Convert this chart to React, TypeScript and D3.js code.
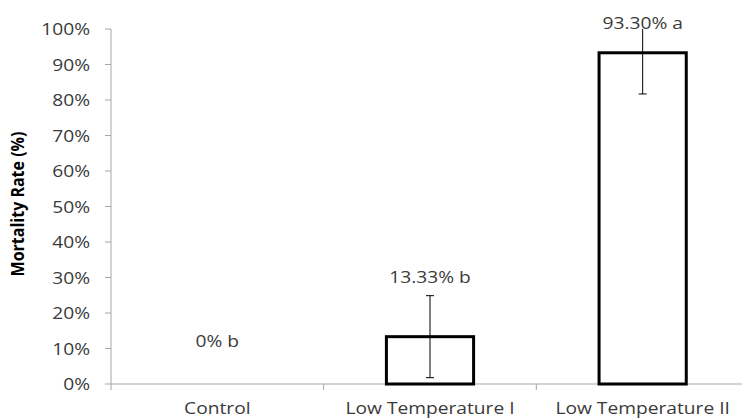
import React from "react";
import * as d3 from "d3";

const categories = ["Control", "Low Temperature I", "Low Temperature II"];
const values = [0, 13.33, 93.3];
const errors = [0, 11.55, 11.6];
const labels = ["0% b", "13.33% b", "93.30% a"];
const labelAnchors = [10.4, 28.5, 100]; // value (in %) at which each label baseline sits
const yTicks = [0, 10, 20, 30, 40, 50, 60, 70, 80, 90, 100];

const W = 742;
const H = 419;
const M = { left: 111, right: -7, top: 29, bottom: 35 };
const SX = 1.2;
const FS = 16;
const FONT = "'Open Sans', 'Liberation Sans', sans-serif";
const TXT = "#3a3a3a";

export default function App() {
  const x = d3
    .scaleBand<string>()
    .domain(categories)
    .range([M.left, W - M.right])
    .paddingInner(0.59)
    .paddingOuter(0.295);
  const band = d3.scaleBand<string>().domain(categories).range([M.left, W - M.right]);
  const y = d3.scaleLinear().domain([0, 100]).range([H - M.bottom, M.top]);
  const y0 = y(0);
  const boundaries = [M.left, ...categories.map((c) => (band(c) as number) + band.bandwidth())];

  return (
    <svg
      width={W}
      height={H}
      style={{ position: "absolute", left: 0, top: 0, background: "#fff" }}
      fontFamily={FONT}
    >
      <defs>
        <clipPath id="plot">
          <rect x={M.left} y={M.top} width={W - M.left} height={y0 - M.top} />
        </clipPath>
      </defs>
      {/* y axis */}
      <line x1={M.left} x2={M.left} y1={y(100)} y2={y0} stroke="#a6a6a6" strokeWidth={1} />
      {yTicks.map((t) => (
        <g key={t}>
          <line x1={M.left - 6} x2={M.left} y1={y(t)} y2={y(t)} stroke="#a6a6a6" />
          <text
            transform={`translate(${90},${y(t) + 6}) scale(${SX},1)`}
            textAnchor="end"
            fontSize={FS}
            fill={TXT}
          >
            {t}%
          </text>
        </g>
      ))}
      {/* x axis */}
      <line x1={M.left} x2={W} y1={y0} y2={y0} stroke="#a6a6a6" />
      {boundaries.map((b, i) => (
        <line key={i} x1={b} x2={b} y1={y0} y2={y0 + 6} stroke="#a6a6a6" />
      ))}
      {categories.map((c) => (
        <text
          key={c}
          transform={`translate(${(band(c) as number) + band.bandwidth() / 2},${414}) scale(${SX},1)`}
          textAnchor="middle"
          fontSize={FS}
          fill={TXT}
        >
          {c}
        </text>
      ))}
      {/* bars */}
      {categories.map((c, i) =>
        values[i] > 0 ? (
          <rect
            key={c}
            x={x(c)}
            y={y(values[i])}
            width={x.bandwidth()}
            height={y0 - y(values[i])}
            fill="#fff"
            stroke="#000"
            strokeWidth={3}
          />
        ) : null
      )}
      {/* error bars */}
      <g clipPath="url(#plot)">
        {categories.map((c, i) => {
          if (!errors[i]) return null;
          const cx = (x(c) as number) + x.bandwidth() / 2;
          const hi = y(values[i] + errors[i]);
          const lo = y(values[i] - errors[i]);
          return (
            <g key={c} stroke="#000" strokeWidth={1}>
              <line x1={cx} x2={cx} y1={hi} y2={lo} />
              <line x1={cx - 4} x2={cx + 4} y1={hi} y2={hi} />
              <line x1={cx - 4} x2={cx + 4} y1={lo} y2={lo} />
            </g>
          );
        })}
      </g>
      {/* data labels */}
      {categories.map((c, i) => (
        <text
          key={c}
          transform={`translate(${(band(c) as number) + band.bandwidth() / 2},${y(labelAnchors[i])}) scale(${SX},1)`}
          textAnchor="middle"
          fontSize={FS}
          fill={TXT}
        >
          {labels[i]}
        </text>
      ))}
      {/* y title */}
      <text
        transform={`translate(${24},${204}) rotate(-90) scale(1,1.15)`}
        textAnchor="middle"
        fontSize={16}
        fontWeight="bold"
        fill="#000"
      >
        Mortality Rate (%)
      </text>
    </svg>
  );
}
